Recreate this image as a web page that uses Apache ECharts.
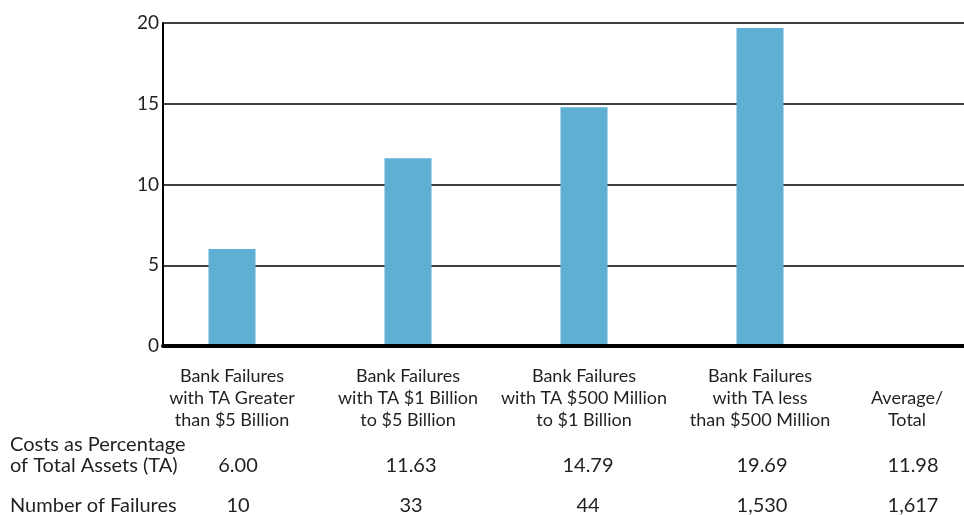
<!DOCTYPE html>
<html><head><meta charset="utf-8">
<script src="https://cdn.jsdelivr.net/npm/echarts@6/dist/echarts.min.js"></script>
<style>html,body{margin:0;padding:0;background:#fff}#c{width:964px;height:515px}</style>
</head><body><div id="c"></div>
<script>
const categories = [
  "Bank Failures\nwith TA Greater\nthan $5 Billion",
  "Bank Failures\nwith TA $1 Billion\nto $5 Billion",
  "Bank Failures\nwith TA $500 Million\nto $1 Billion",
  "Bank Failures\nwith TA less\nthan $500 Million"
];
const totalLabel = "Average/\nTotal";
const costPct = [6.00, 11.63, 14.79, 19.69];
const costPctAvg = 11.98;
const failures = ["10", "33", "44", "1,530"];
const failuresTotal = "1,617";
const yTicks = [0, 5, 10, 15, 20];
const rowLabels = ["Costs as Percentage\nof Total Assets (TA)", "Number of Failures"];

const FONT = 'Lato';
const TXT = '#231f20';
const colX = [238, 411, 588, 762, 913];

const chart = echarts.init(document.getElementById('c'), null, {renderer: 'canvas'});

const graphics = [];
const costTexts = costPct.map(v => v.toFixed(2)).concat([costPctAvg.toFixed(2)]);
const failTexts = failures.concat([failuresTotal]);
graphics.push({type: 'text', x: 907, y: 409, style: {text: totalLabel, font: '18px ' + FONT, fill: TXT, align: 'center', verticalAlign: 'middle', lineHeight: 22}});
graphics.push({type: 'text', x: 10, y: 455, style: {text: rowLabels[0], font: '20px ' + FONT, fill: TXT, lineHeight: 21, verticalAlign: 'middle'}});
graphics.push({type: 'text', x: 10, y: 506, style: {text: rowLabels[1], font: '20px ' + FONT, fill: TXT, verticalAlign: 'middle'}});
costTexts.forEach((t, i) => graphics.push({type: 'text', x: colX[i], y: 466, style: {text: t, font: '20px ' + FONT, fill: TXT, align: 'center', verticalAlign: 'middle'}}));
failTexts.forEach((t, i) => graphics.push({type: 'text', x: colX[i], y: 506, style: {text: t, font: '20px ' + FONT, fill: TXT, align: 'center', verticalAlign: 'middle'}}));

chart.setOption({
  animation: false,
  textStyle: {fontFamily: FONT},
  grid: [
    {left: 144, width: 704, top: 23, bottom: 169},
    {left: 163, right: 0, top: 23, bottom: 169}
  ],
  xAxis: [
    {type: 'category', gridIndex: 0, data: categories,
     axisLine: {show: false}, axisTick: {show: false},
     axisLabel: {interval: 0, fontSize: 18, color: TXT, lineHeight: 22, margin: 19, fontFamily: FONT}},
    {type: 'category', gridIndex: 1, data: [''], axisTick: {show: false}, axisLabel: {show: false},
     axisLine: {show: true, lineStyle: {color: '#000', width: 4}}, z: 10}
  ],
  yAxis: [
    {type: 'value', gridIndex: 0, min: 0, max: 20, interval: 5, show: false},
    {type: 'value', gridIndex: 1, min: 0, max: 20, interval: 5,
     axisLine: {show: true, lineStyle: {color: '#000', width: 2}},
     axisTick: {show: false},
     axisLabel: {fontSize: 19, color: TXT, margin: 4, fontFamily: FONT},
     splitLine: {show: true, lineStyle: {color: '#000', width: 1.5}}}
  ],
  series: [{
    type: 'bar', xAxisIndex: 0, yAxisIndex: 0, data: costPct,
    barWidth: 47, itemStyle: {color: '#5faed3'}, z: 5
  }],
  graphic: graphics
});
</script></body></html>
